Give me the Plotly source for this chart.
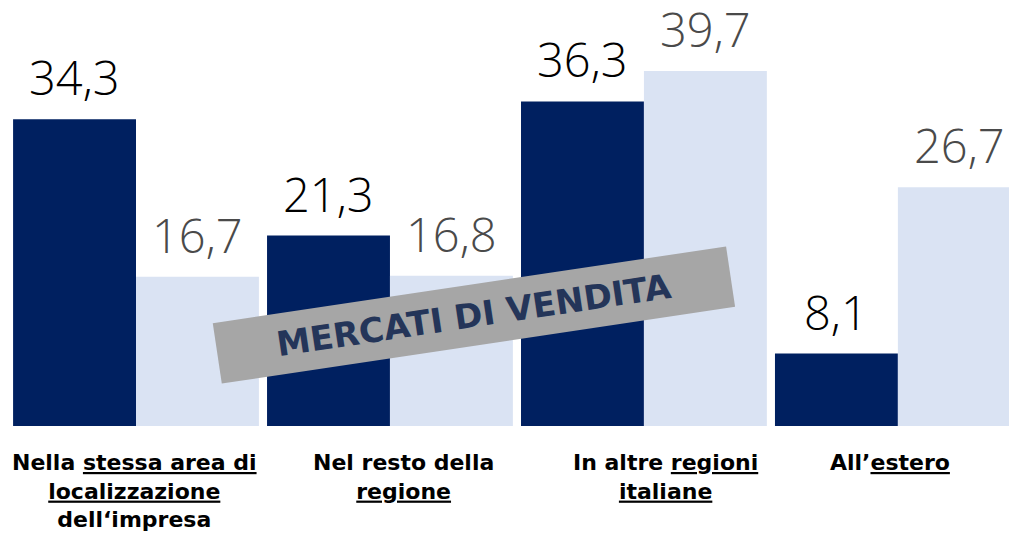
import plotly.graph_objects as go

categories = [
    "<b>Nella <u>stessa area di</u><br><u>localizzazione</u><br>dell\u2018impresa</b>",
    "<b>Nel resto della<br><u>regione</u></b>",
    "<b>In altre <u>regioni</u><br><u>italiane</u></b>",
    "<b>All\u2019<u>estero</u></b>",
]
series_a = [34.3, 21.3, 36.3, 8.1]
series_b = [16.7, 16.8, 39.7, 26.7]
banner_text = "MERCATI DI VENDITA"

# horizontal nudges (px) of the category captions
label_nudge = [-2, 14, 22, -8]

xs = list(range(len(categories)))

fig = go.Figure()
fig.add_trace(go.Bar(x=xs, y=series_a, marker=dict(color="#002060", line=dict(width=0))))
fig.add_trace(go.Bar(x=xs, y=series_b, marker=dict(color="#DAE3F3", line=dict(width=0))))

for vals, shift, col in [(series_a, -61.5, "#000000"), (series_b, 61.5, "#4A4A4A")]:
    for i, v in enumerate(vals):
        fig.add_annotation(
            x=xs[i], y=v, xref="x", yref="y", xshift=shift, yshift=9,
            xanchor="center", yanchor="bottom", showarrow=False,
            height=50, valign="bottom", borderpad=0,
            text=f"{v:.1f}".replace(".", ","),
            font=dict(family="Open Sans", size=47, color=col, weight=300),
        )

for i, lab in enumerate(categories):
    fig.add_annotation(
        x=xs[i], y=0, xref="x", yref="paper", xshift=label_nudge[i], yshift=-22,
        xanchor="center", yanchor="top", showarrow=False, align="center",
        text=lab, font=dict(family="DejaVu Sans", size=22, color="#000000"),
    )

fig.add_annotation(
    x=0.4618, y=0.2644, xref="paper", yref="paper", xanchor="center", yanchor="middle",
    text="<b>" + banner_text + "</b>", showarrow=False, textangle=-8.5,
    bgcolor="#A6A6A6", width=518, height=60, borderpad=0,
    font=dict(family="DejaVu Sans", size=34, color="#243559"),
)

fig.update_layout(
    width=1009, height=532,
    margin=dict(l=0, r=0, t=0, b=114),
    paper_bgcolor="white", plot_bgcolor="white",
    barmode="group", bargap=0.032, bargroupgap=0,
    showlegend=False,
    xaxis=dict(range=[-0.504, 3.469], showticklabels=False,
               showgrid=False, zeroline=False, showline=False, ticks="",
               automargin=False),
    yaxis=dict(range=[0, 46.75], visible=False, automargin=False),
)

fig.write_html("out.html")
